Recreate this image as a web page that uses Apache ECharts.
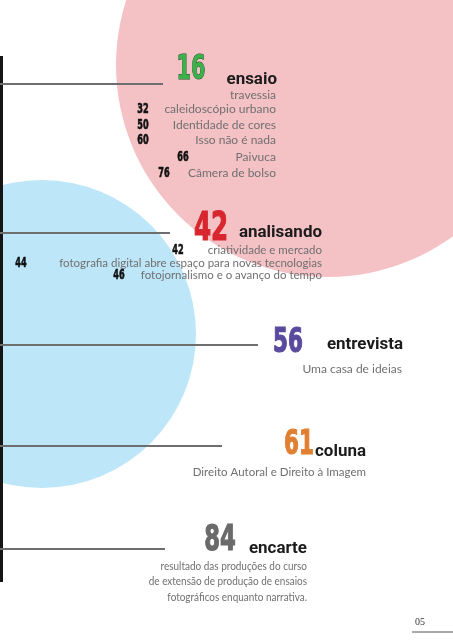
<!DOCTYPE html>
<html>
<head>
<meta charset="utf-8">
<script src="https://cdn.jsdelivr.net/npm/echarts@6/dist/echarts.min.js"></script>
<style>
html,body{margin:0;padding:0;background:#fff;}
#chart{width:453px;height:640px;}
</style>
</head>
<body>
<div id="chart"></div>
<script>
// ---- content (data) ----
const sectionPages = ['16', '42', '56', '61', '84'];
const sectionTitles = ['ensaio', 'analisando', 'entrevista', 'coluna', 'encarte'];
const ensaioPages = ['', '32', '50', '60', '66', '76'];
const ensaioItems = ['travessia', 'caleidoscópio urbano', 'Identidade de cores', 'Isso não é nada', 'Paivuca', 'Câmera de bolso'];
const analisandoPages = ['42', '44', '46'];
const analisandoItems = ['criatividade e mercado', 'fotografia digital abre espaço para novas tecnologias', 'fotojornalismo e o avanço do tempo'];
const entrevistaItems = ['Uma casa de ideias'];
const colunaItems = ['Direito Autoral e Direito à Imagem'];
const encarteItems = ['resultado das produções do curso', 'de extensão de produção de ensaios', 'fotográficos enquanto narrativa.'];
const pageNumber = '05';

// ---- layout / style ----
const BIG_FONT = '"Liberation Sans Narrow", "DejaVu Sans Condensed", "DejaVu Sans", sans-serif';
const TITLE_FONT = 'Roboto, "Noto Sans", sans-serif';
const ITEM_FONT = 'Lato, "Open Sans", sans-serif';
const bigColors = ['#3cb04b', '#d8262f', '#5a4a9e', '#e17f31', '#6a6a6a'];
const bigStroke = ['#1f4a26', '#d8262f', '#5a4a9e', '#e17f31', '#6a6a6a'];
const bigLayout = [
  {x: 191, y: 70, size: 33},
  {x: 211, y: 230, size: 39},
  {x: 288, y: 343, size: 34},
  {x: 299, y: 445, size: 34},
  {x: 220, y: 541, size: 36}
];
const titleLayout = [
  {x: 277, y: 80}, {x: 322, y: 233}, {x: 403, y: 345}, {x: 366, y: 452}, {x: 307, y: 549}
];
const ruleLayout = [
  {y: 84, x2: 163}, {y: 233, x2: 170}, {y: 345, x2: 258}, {y: 446, x2: 222}, {y: 549, x2: 165}
];

const g = [];
// background circles
g.push({type: 'circle', shape: {cx: 328, cy: 65, r: 212}, style: {fill: '#f4c1c5'}, z: 0});
g.push({type: 'circle', shape: {cx: 42, cy: 334, r: 154}, style: {fill: '#bde6f8'}, z: 0});
// vertical rule
g.push({type: 'line', shape: {x1: 1.5, y1: 56, x2: 1.5, y2: 582}, style: {stroke: '#151515', lineWidth: 3}, z: 2});
// horizontal rules
ruleLayout.forEach(r => g.push({type: 'line', shape: {x1: 0, y1: r.y, x2: r.x2, y2: r.y}, style: {stroke: '#6e6e6e', lineWidth: 2}, z: 2}));

function text(str, x, y, font, fill, align, extra) {
  const el = {type: 'text', x: x, y: y, z: 5,
    style: Object.assign({text: str, font: font, fill: fill, textAlign: align, textVerticalAlign: 'middle'}, extra && extra.style || {})};
  if (extra && extra.sx) { el.scaleX = extra.sx; }
  return el;
}

// big page numbers + titles
sectionPages.forEach((p, i) => {
  const L = bigLayout[i];
  const st = {stroke: bigStroke[i], lineWidth: i === 0 ? 1 : 1.2};
  g.push(text(p, L.x, L.y, 'bold ' + L.size + 'px ' + BIG_FONT, bigColors[i], 'center', {sx: 0.7, style: st}));
  const T = titleLayout[i];
  g.push(text(sectionTitles[i], T.x, T.y, 'bold 16px ' + TITLE_FONT, '#1b1b1b', 'right', {sx: 1.06}));
});

const ITEM_COLOR = '#707070';
const NUM_FONT = 'bold 14px ' + BIG_FONT;
const NUM_STYLE = {stroke: '#111', lineWidth: 0.6};
// ensaio
const ensaioY = [95, 109, 125, 140, 157, 173];
const ensaioNumX = [0, 143, 143, 143, 183, 164];
ensaioItems.forEach((s, i) => {
  g.push(text(s, 276, ensaioY[i], '12px ' + ITEM_FONT, ITEM_COLOR, 'right'));
  if (ensaioPages[i]) g.push(text(ensaioPages[i], ensaioNumX[i], ensaioY[i], NUM_FONT, '#111', 'center', {sx: 0.65, style: NUM_STYLE}));
});
// analisando
const anY = [250, 263, 275];
const anNumX = [178, 21, 119];
analisandoItems.forEach((s, i) => {
  g.push(text(s, 322, anY[i], '11.5px ' + ITEM_FONT, ITEM_COLOR, 'right'));
  g.push(text(analisandoPages[i], anNumX[i], anY[i], NUM_FONT, '#111', 'center', {sx: 0.65, style: NUM_STYLE}));
});
// entrevista
entrevistaItems.forEach((s, i) => g.push(text(s, 402, 369 + i * 15, '12px ' + ITEM_FONT, ITEM_COLOR, 'right')));
// coluna
colunaItems.forEach((s, i) => g.push(text(s, 366, 472 + i * 15, '12px ' + ITEM_FONT, ITEM_COLOR, 'right', {sx: 0.96})));
// encarte
encarteItems.forEach((s, i) => g.push(text(s, 307, 566 + i * 15.5, '12px ' + ITEM_FONT, ITEM_COLOR, 'right', {sx: 0.83})));
// folio
g.push(text(pageNumber, 420, 622, '10px "Liberation Serif", "DejaVu Serif", serif', '#333', 'center'));
g.push({type: 'line', shape: {x1: 412, y1: 632, x2: 453, y2: 632}, style: {stroke: '#555', lineWidth: 1}, z: 2});

const chart = echarts.init(document.getElementById('chart'), null, {renderer: 'canvas'});
chart.setOption({
  backgroundColor: '#ffffff',
  animation: false,
  graphic: {elements: g}
});
</script>
</body>
</html>
